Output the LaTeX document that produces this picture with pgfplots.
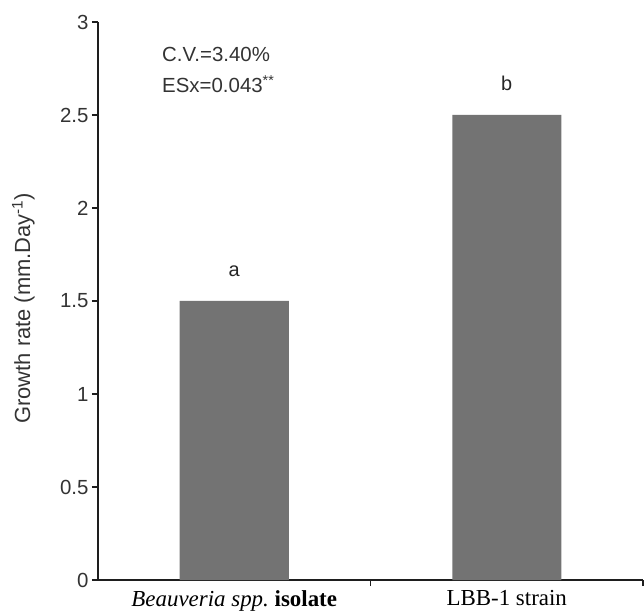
\documentclass[border=0pt]{standalone}
\usepackage{fontspec}
\setmainfont{Liberation Sans}
\newfontfamily\serifx{Liberation Serif}
\usepackage{pgfplots}
\pgfplotsset{compat=1.18}
\definecolor{barg}{RGB}{115,115,115}
\definecolor{axc}{RGB}{30,30,30}
\begin{document}
\begin{tikzpicture}
\useasboundingbox (-98bp,-34bp) rectangle (546bp,580bp);
\begin{axis}[
  at={(0,0)}, anchor=south west,
  scale only axis, width=545bp, height=558bp,
  xmin=0, xmax=2, ymin=0, ymax=3,
  axis lines*=left,
  axis line style={line width=1.6bp, axc},
  ytick={0,0.5,...,3},
  xtick={1,2}, xticklabels={},
  extra x ticks={0.5,1.5},
  extra x tick labels={{\itshape Beauveria spp.}\ \textbf{isolate}, LBB-1 strain},
  extra x tick style={major tick length=0pt, tick label style={font=\serifx\fontsize{23}{26}\selectfont, yshift=-7bp}},
  tick align=outside, major tick length=6bp,
  tick style={line width=1.6bp, axc},
  yticklabel style={font=\fontsize{20.5}{24}\selectfont, text=black!80},
  /pgf/number format/assume math mode=true,
  ylabel={Growth rate (mm.Day\textsuperscript{-1})},
  ylabel style={font=\fontsize{22}{24}\selectfont, text=black!80, at={(axis description cs:-0.137,0.487)}, anchor=center},
  ybar, bar width=0.4,
  nodes near coords, point meta=explicit symbolic,
  nodes near coords style={font=\fontsize{20}{24}\selectfont, text=black!85, yshift=20.5bp},
]
\addplot[fill=barg, draw=none] coordinates {(0.5,1.5) [a] (1.5,2.5) [b]};
\node[anchor=west, font=\fontsize{20.5}{24}\selectfont, text=black!80, inner sep=0pt] at (axis cs:0.235,2.828) {C.V.=3.40\%};
\node[anchor=west, font=\fontsize{20.5}{24}\selectfont, text=black!80, inner sep=0pt] at (axis cs:0.235,2.667) {ESx=0.043\textsuperscript{**}};
\end{axis}
\end{tikzpicture}
\end{document}
